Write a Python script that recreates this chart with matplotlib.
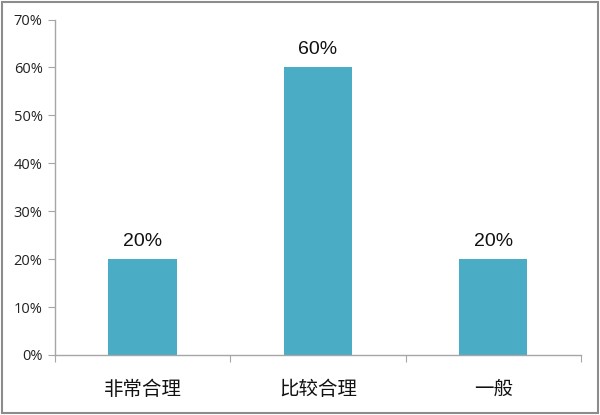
import matplotlib
matplotlib.use("Agg")
import matplotlib.pyplot as plt
from matplotlib.patches import Rectangle
from matplotlib.ticker import MultipleLocator, FuncFormatter

# 数据
categories = ["非常合理", "比较合理", "一般"]
values = [20, 60, 20]
value_labels = ["20%", "60%", "20%"]

bar_color = "#4BACC6"
axis_color = "#A6A6A6"

fig = plt.figure(figsize=(6, 4.15), dpi=100)
ax = fig.add_axes([0.0917, 0.1446, 0.8763, 0.8084])

x = range(len(categories))
bars = ax.bar(x, values, width=0.39, color=bar_color, zorder=2)

ax.set_xlim(-0.5, len(categories) - 0.5)
ax.set_ylim(0, 70)
ax.yaxis.set_major_locator(MultipleLocator(10))
ax.yaxis.set_major_formatter(FuncFormatter(lambda v, p: "%d%%" % v))

# 数值标签
for b, lab in zip(bars, value_labels):
    ax.text(b.get_x() + b.get_width() / 2, b.get_height() + 1.9, lab,
            ha="center", va="bottom", fontsize=14, family="Liberation Sans",
            color="#111111")

# 坐标轴样式
for s in ["top", "right"]:
    ax.spines[s].set_visible(False)
for s in ["left", "bottom"]:
    ax.spines[s].set_color(axis_color)
    ax.spines[s].set_linewidth(1.0)

ax.set_xticks([-0.5, 0.5, 1.5, 2.5])
ax.set_xticklabels([])
ax.tick_params(axis="x", length=5, color=axis_color, direction="out")
ax.tick_params(axis="y", length=5, color=axis_color, direction="out",
               labelsize=10.5, pad=4)
for t in ax.get_yticklabels():
    t.set_family("Open Sans")
    t.set_color("#222222")

# 类别标签
for i, c in enumerate(categories):
    ax.text(i, -5.0, c, ha="center", va="top", fontsize=14,
            family=["Noto Sans CJK SC", "DejaVu Sans"], color="#111111")

# 外框
fig.patches.append(Rectangle((0.003, 0.004), 0.993, 0.992, transform=fig.transFigure,
                             fill=False, edgecolor="#8C8C8C", linewidth=1.5))

fig.savefig("out.png", dpi=100)
